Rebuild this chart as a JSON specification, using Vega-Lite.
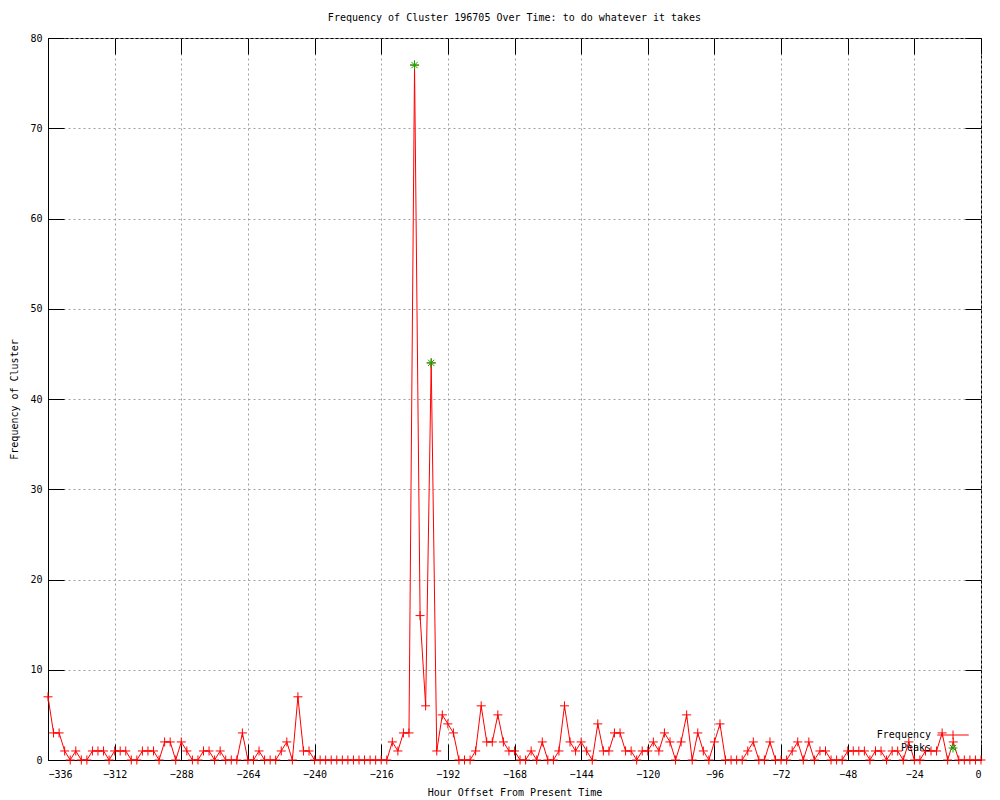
{
  "$schema": "https://vega.github.io/schema/vega-lite/v6.json",
  "width": 933,
  "height": 722,
  "autosize": {"type": "none"},
  "padding": {"left": 48, "top": 38, "right": 19, "bottom": 40},
  "background": "white",
  "title": {
    "text": "Frequency of Cluster 196705 Over Time: to do whatever it takes",
    "font": "DejaVu Sans Mono",
    "fontSize": 10,
    "fontWeight": "normal",
    "color": "black",
    "anchor": "middle",
    "offset": 10
  },
  "config": {
    "view": {"stroke": "black", "strokeWidth": 1},
    "axis": {
      "labelFont": "DejaVu Sans Mono",
      "labelFontSize": 10,
      "labelColor": "black",
      "titleFont": "DejaVu Sans Mono",
      "titleFontSize": 10,
      "titleFontWeight": "normal",
      "titleColor": "black",
      "domainColor": "black",
      "tickColor": "black",
      "gridColor": "#a0a0a0",
      "gridDash": [2, 3],
      "gridOpacity": 1
    }
  },
  "datasets": {
    "freq": [
      {"hour": -336, "count": 7}, {"hour": -334, "count": 3}, {"hour": -332, "count": 3}, {"hour": -330, "count": 1},
      {"hour": -328, "count": 0}, {"hour": -326, "count": 1}, {"hour": -324, "count": 0}, {"hour": -322, "count": 0},
      {"hour": -320, "count": 1}, {"hour": -318, "count": 1}, {"hour": -316, "count": 1}, {"hour": -314, "count": 0},
      {"hour": -312, "count": 1}, {"hour": -310, "count": 1}, {"hour": -308, "count": 1}, {"hour": -306, "count": 0},
      {"hour": -304, "count": 0}, {"hour": -302, "count": 1}, {"hour": -300, "count": 1}, {"hour": -298, "count": 1},
      {"hour": -296, "count": 0}, {"hour": -294, "count": 2}, {"hour": -292, "count": 2}, {"hour": -290, "count": 0},
      {"hour": -288, "count": 2}, {"hour": -286, "count": 1}, {"hour": -284, "count": 0}, {"hour": -282, "count": 0},
      {"hour": -280, "count": 1}, {"hour": -278, "count": 1}, {"hour": -276, "count": 0}, {"hour": -274, "count": 1},
      {"hour": -272, "count": 0}, {"hour": -270, "count": 0}, {"hour": -268, "count": 0}, {"hour": -266, "count": 3},
      {"hour": -264, "count": 0}, {"hour": -262, "count": 0}, {"hour": -260, "count": 1}, {"hour": -258, "count": 0},
      {"hour": -256, "count": 0}, {"hour": -254, "count": 0}, {"hour": -252, "count": 1}, {"hour": -250, "count": 2},
      {"hour": -248, "count": 0}, {"hour": -246, "count": 7}, {"hour": -244, "count": 1}, {"hour": -242, "count": 1},
      {"hour": -240, "count": 0}, {"hour": -238, "count": 0}, {"hour": -236, "count": 0}, {"hour": -234, "count": 0},
      {"hour": -232, "count": 0}, {"hour": -230, "count": 0}, {"hour": -228, "count": 0}, {"hour": -226, "count": 0},
      {"hour": -224, "count": 0}, {"hour": -222, "count": 0}, {"hour": -220, "count": 0}, {"hour": -218, "count": 0},
      {"hour": -216, "count": 0}, {"hour": -214, "count": 0}, {"hour": -212, "count": 2}, {"hour": -210, "count": 1},
      {"hour": -208, "count": 3}, {"hour": -206, "count": 3}, {"hour": -204, "count": 77}, {"hour": -202, "count": 16},
      {"hour": -200, "count": 6}, {"hour": -198, "count": 44}, {"hour": -196, "count": 1}, {"hour": -194, "count": 5},
      {"hour": -192, "count": 4}, {"hour": -190, "count": 3}, {"hour": -188, "count": 0}, {"hour": -186, "count": 0},
      {"hour": -184, "count": 0}, {"hour": -182, "count": 1}, {"hour": -180, "count": 6}, {"hour": -178, "count": 2},
      {"hour": -176, "count": 2}, {"hour": -174, "count": 5}, {"hour": -172, "count": 2}, {"hour": -170, "count": 1},
      {"hour": -168, "count": 1}, {"hour": -166, "count": 0}, {"hour": -164, "count": 0}, {"hour": -162, "count": 1},
      {"hour": -160, "count": 0}, {"hour": -158, "count": 2}, {"hour": -156, "count": 0}, {"hour": -154, "count": 0},
      {"hour": -152, "count": 1}, {"hour": -150, "count": 6}, {"hour": -148, "count": 2}, {"hour": -146, "count": 1},
      {"hour": -144, "count": 2}, {"hour": -142, "count": 1}, {"hour": -140, "count": 0}, {"hour": -138, "count": 4},
      {"hour": -136, "count": 1}, {"hour": -134, "count": 1}, {"hour": -132, "count": 3}, {"hour": -130, "count": 3},
      {"hour": -128, "count": 1}, {"hour": -126, "count": 1}, {"hour": -124, "count": 0}, {"hour": -122, "count": 1},
      {"hour": -120, "count": 1}, {"hour": -118, "count": 2}, {"hour": -116, "count": 1}, {"hour": -114, "count": 3},
      {"hour": -112, "count": 2}, {"hour": -110, "count": 0}, {"hour": -108, "count": 2}, {"hour": -106, "count": 5},
      {"hour": -104, "count": 0}, {"hour": -102, "count": 3}, {"hour": -100, "count": 1}, {"hour": -98, "count": 0},
      {"hour": -96, "count": 2}, {"hour": -94, "count": 4}, {"hour": -92, "count": 0}, {"hour": -90, "count": 0},
      {"hour": -88, "count": 0}, {"hour": -86, "count": 0}, {"hour": -84, "count": 1}, {"hour": -82, "count": 2},
      {"hour": -80, "count": 0}, {"hour": -78, "count": 0}, {"hour": -76, "count": 2}, {"hour": -74, "count": 0},
      {"hour": -72, "count": 0}, {"hour": -70, "count": 0}, {"hour": -68, "count": 1}, {"hour": -66, "count": 2},
      {"hour": -64, "count": 0}, {"hour": -62, "count": 2}, {"hour": -60, "count": 0}, {"hour": -58, "count": 1},
      {"hour": -56, "count": 1}, {"hour": -54, "count": 0}, {"hour": -52, "count": 0}, {"hour": -50, "count": 0},
      {"hour": -48, "count": 1}, {"hour": -46, "count": 1}, {"hour": -44, "count": 1}, {"hour": -42, "count": 1},
      {"hour": -40, "count": 0}, {"hour": -38, "count": 1}, {"hour": -36, "count": 1}, {"hour": -34, "count": 0},
      {"hour": -32, "count": 1}, {"hour": -30, "count": 1}, {"hour": -28, "count": 0}, {"hour": -26, "count": 2},
      {"hour": -24, "count": 0}, {"hour": -22, "count": 0}, {"hour": -20, "count": 1}, {"hour": -18, "count": 1},
      {"hour": -16, "count": 1}, {"hour": -14, "count": 3}, {"hour": -12, "count": 0}, {"hour": -10, "count": 2},
      {"hour": -8, "count": 0}, {"hour": -6, "count": 0}, {"hour": -4, "count": 0}, {"hour": -2, "count": 0},
      {"hour": 0, "count": 0}
    ],
    "peaks": [
      {"hour": -204, "count": 77},
      {"hour": -198, "count": 44}
    ],
    "legend": [
      {"series": "Frequency"},
      {"series": "Peaks"}
    ]
  },
  "resolve": {"axis": {"x": "independent", "y": "independent"}},
  "layer": [
    {
      "data": {"name": "freq"},
      "mark": {"type": "line", "color": "#ff0000", "strokeWidth": 1},
      "encoding": {
        "x": {
          "field": "hour", "type": "quantitative",
          "scale": {"domain": [-336, 0], "nice": false, "zero": false},
          "axis": {
            "orient": "bottom",
            "values": [-336, -312, -288, -264, -240, -216, -192, -168, -144, -120, -96, -72, -48, -24, 0],
            "title": "Hour Offset From Present Time",
            "grid": true,
            "tickSize": -16,
            "labelPadding": 25,
            "titlePadding": 8
          }
        },
        "y": {
          "field": "count", "type": "quantitative",
          "scale": {"domain": [0, 80], "nice": false},
          "axis": {
            "orient": "left",
            "values": [0, 10, 20, 30, 40, 50, 60, 70, 80],
            "title": "Frequency of Cluster",
            "grid": true,
            "tickSize": -16,
            "labelPadding": 22,
            "titlePadding": 10
          }
        }
      }
    },
    {
      "data": {"name": "freq"},
      "mark": {"type": "point", "filled": false, "color": "#ff0000", "strokeWidth": 1, "size": 81, "opacity": 1,
        "shape": "M-1,0L1,0M0,-1L0,1"},
      "encoding": {
        "x": {"field": "hour", "type": "quantitative", "axis": null},
        "y": {"field": "count", "type": "quantitative", "axis": null}
      }
    },
    {
      "data": {"name": "peaks"},
      "mark": {"type": "point", "filled": false, "color": "#00b000", "strokeWidth": 1, "size": 81, "opacity": 1,
        "shape": "M-1,0L1,0M0,-1L0,1M-0.7,-0.7L0.7,0.7M-0.7,0.7L0.7,-0.7"},
      "encoding": {
        "x": {
          "field": "hour", "type": "quantitative",
          "axis": {"orient": "top", "values": [-336, -312, -288, -264, -240, -216, -192, -168, -144, -120, -96, -72, -48, -24, 0],
            "labels": false, "grid": false, "domain": false, "title": null, "tickSize": -16}
        },
        "y": {
          "field": "count", "type": "quantitative",
          "axis": {"orient": "right", "values": [0, 10, 20, 30, 40, 50, 60, 70, 80],
            "labels": false, "grid": false, "domain": false, "title": null, "tickSize": -16}
        }
      }
    },
    {
      "data": {"name": "legend"},
      "transform": [{"filter": "datum.series == 'none'"}],
      "mark": {"type": "point", "filled": false, "strokeWidth": 1, "opacity": 1},
      "encoding": {
        "color": {
          "field": "series", "type": "nominal",
          "scale": {"domain": ["Frequency", "Peaks"], "range": ["#ff0000", "#00b000"]},
          "legend": {
            "title": null,
            "orient": "none",
            "legendX": 900,
            "legendY": 692,
            "padding": 0,
            "rowPadding": -1,
            "symbolSize": 81,
            "symbolStrokeWidth": 1,
            "labelFont": "DejaVu Sans Mono",
            "labelFontSize": 10,
            "labelColor": "black",
            "labelAlign": "right",
            "labelOffset": -27
          }
        },
        "shape": {
          "field": "series", "type": "nominal",
          "scale": {"domain": ["Frequency", "Peaks"], "range": ["M-3.5,0L3.5,0M0,-1L0,1", "M-1,0L1,0M0,-1L0,1M-0.7,-0.7L0.7,0.7M-0.7,0.7L0.7,-0.7"]}
        }
      }
    }
  ]
}
